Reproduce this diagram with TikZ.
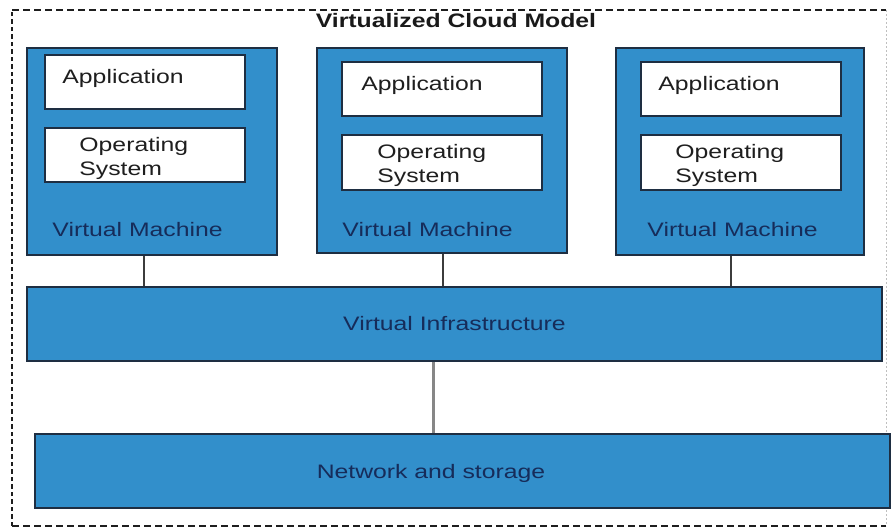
\documentclass[tikz,border=0pt]{standalone}
\usepackage{fontspec}
\setmainfont[FakeStretch=1.27]{Liberation Sans}
\usetikzlibrary{calc}

\definecolor{boxblue}{RGB}{50,143,203}
\definecolor{boxedge}{RGB}{30,46,66}
\definecolor{navytext}{RGB}{22,44,90}
\definecolor{graytext}{RGB}{30,30,30}
\definecolor{framecol}{RGB}{30,30,30}
\definecolor{linkgray}{RGB}{135,135,135}
\definecolor{linkdark}{RGB}{60,60,60}

\begin{document}
\begin{tikzpicture}[x=1pt,y=-1pt,
  font=\fontsize{19.5}{24}\selectfont,
  vmbox/.style={draw=boxedge, fill=boxblue, line width=1.5pt, minimum width=250pt, minimum height=207pt, inner sep=0pt},
  whitebox/.style={draw=boxedge, fill=white, line width=1.5pt, minimum width=200pt, minimum height=54pt, inner sep=0pt},
  barbox/.style={draw=boxedge, fill=boxblue, line width=1.5pt, minimum width=855pt, minimum height=74pt, inner sep=0pt, text=navytext},
  wtxt/.style={inner sep=0pt, text=graytext, align=left},
  btxt/.style={inner sep=0pt, text=navytext},
  vmlink/.style={draw=linkdark, line width=1.4pt},
  infralink/.style={draw=linkgray, line width=3pt},
  framedashh/.style={draw=framecol, line width=2.6pt, dash pattern=on 7pt off 4pt},
  framedashv/.style={draw=framecol, line width=2.6pt, dash pattern=on 4.5pt off 3pt},
  framefaint/.style={draw=black!25, line width=1pt, dash pattern=on 2pt off 2pt}
]
\useasboundingbox (0,0) rectangle (896,528);

% outer frame
\coordinate (ftl) at (12,10);
\coordinate (ftr) at (886,10);
\coordinate (fbl) at (12,526);
\coordinate (fbr) at (886,526);
\draw[framedashh] (ftl) -- (ftr);
\draw[framedashh] (fbl) -- (fbr);
\draw[framedashv] (fbl) -- (ftl);
\draw[framefaint] (ftr) -- (fbr);

% title
\node[inner sep=0pt, anchor=base, text=black!90, font=\fontsize{19.5}{24}\selectfont\bfseries] (title) at (456,27) {Virtualized Cloud Model};

% virtual machines
\node[vmbox] (vm1) at (152,151.5) {};
\node[vmbox, minimum height=205pt] (vm2) at (442,150.5) {};
\node[vmbox, minimum width=248pt] (vm3) at (740,151.5) {};

\node[whitebox] (app1) at (145,82) {};
\node[whitebox] (app2) at (442,89) {};
\node[whitebox] (app3) at (741,89) {};

\node[whitebox] (os1) at (145,155) {};
\node[whitebox, minimum height=55pt] (os2) at (442,162.5) {};
\node[whitebox, minimum height=55pt] (os3) at (741,162.5) {};

\node[wtxt, anchor=base west] (app1t) at ($(app1.north west)+(18,29)$) {Application};
\node[wtxt, anchor=base west] (app2t) at ($(app2.north west)+(20,29)$) {Application};
\node[wtxt, anchor=base west] (app3t) at ($(app3.north west)+(18,29)$) {Application};

\node[wtxt, anchor=north west] (os1t) at ($(os1.north west)+(35,9.5)$) {Operating\\System};
\node[wtxt, anchor=north west] (os2t) at ($(os2.north west)+(36,9.5)$) {Operating\\System};
\node[wtxt, anchor=north west] (os3t) at ($(os3.north west)+(35,9.5)$) {Operating\\System};

\node[btxt, anchor=base west] (vm1t) at ($(vm1.north west)+(26,189)$) {Virtual Machine};
\node[btxt, anchor=base west] (vm2t) at ($(vm2.north west)+(26,189)$) {Virtual Machine};
\node[btxt, anchor=base west] (vm3t) at ($(vm3.north west)+(32,189)$) {Virtual Machine};

% infrastructure and storage
\node[barbox] (vi) at (454.5,324) {Virtual Infrastructure};
\node[barbox] (ns) at (462.5,471) {};
\node[btxt, anchor=base] (nst) at (431,478) {Network and storage};

% connectors
\draw[vmlink] ([xshift=-8pt]vm1.south) -- ([xshift=-8pt]vm1.south |- vi.north);
\draw[vmlink] ([xshift=1pt]vm2.south) -- ([xshift=1pt]vm2.south |- vi.north);
\draw[vmlink] ([xshift=-9pt]vm3.south) -- ([xshift=-9pt]vm3.south |- vi.north);
\draw[infralink] ([xshift=-21.5pt]vi.south) -- ([xshift=-21.5pt]vi.south |- ns.north);
\end{tikzpicture}
\end{document}
